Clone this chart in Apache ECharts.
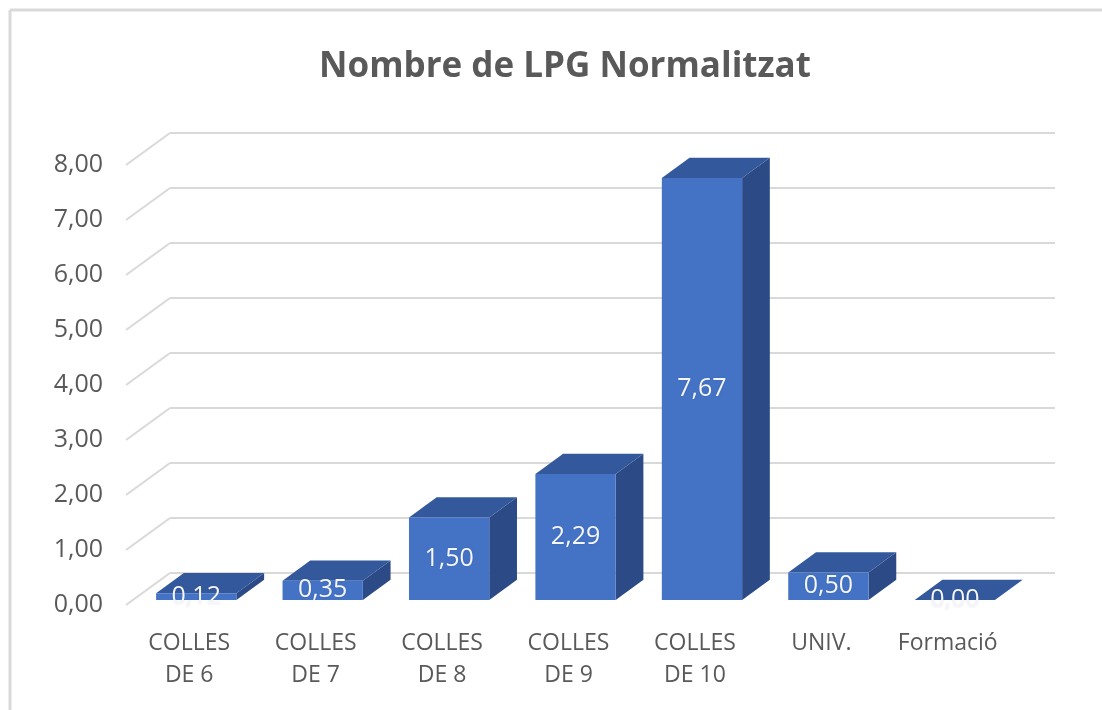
<!DOCTYPE html>
<html>
<head>
<meta charset="utf-8">
<script src="https://cdn.jsdelivr.net/npm/echarts@6/dist/echarts.min.js"></script>
<style>
  html, body { margin: 0; padding: 0; background: #ffffff; }
  #chart { width: 1102px; height: 710px; }
</style>
</head>
<body>
<div id="chart"></div>
<script>
// ---- data ----
const titleText = 'Nombre de LPG Normalitzat';
const categories = ['COLLES\nDE 6', 'COLLES\nDE 7', 'COLLES\nDE 8', 'COLLES\nDE 9', 'COLLES\nDE 10', 'UNIV.', 'Formació'];
const values = [0.12, 0.35, 1.50, 2.29, 7.67, 0.50, 0.00];
const tickValues = [0, 1, 2, 3, 4, 5, 6, 7, 8];

// ---- style ----
const FONT = '"Open Sans", "Noto Sans", sans-serif';
const TEXT = '#595959';
const GRID_LINE = '#d9d9d9';
const FRONT = '#4472c4';
const TOP = '#34589c';
const SIDE = '#2b4a86';
const DEPTH = [44, -32];      // floor depth offset (px)
const BAR_T0 = 0.16, BAR_T1 = 0.79; // bar placement along depth
const BAR_W = 0.635;          // fraction of band

const fmt = v => v.toFixed(2).replace('.', ',');

const chart = echarts.init(document.getElementById('chart'), null, { renderer: 'canvas' });

function renderWall(params, api) {
  const cs = params.coordSys;
  const v = api.value(0);
  const y = api.coord([0, v])[1];
  const x0 = cs.x, x1 = cs.x + cs.width;
  const style = { stroke: GRID_LINE, lineWidth: 2, fill: null };
  return {
    type: 'group',
    children: [
      { type: 'line', shape: { x1: x0, y1: y, x2: x0 + DEPTH[0], y2: y + DEPTH[1] }, style },
      { type: 'line', shape: { x1: x0 + DEPTH[0], y1: y + DEPTH[1], x2: x1 + DEPTH[0], y2: y + DEPTH[1] }, style }
    ]
  };
}

function renderBar(params, api) {
  const idx = api.value(0);
  const val = api.value(1);
  const top = api.coord([idx, val]);
  const base = api.coord([idx, 0]);
  const band = api.size([1, 0])[0];
  const w = band * BAR_W;
  const fx = DEPTH[0] * BAR_T0, fy = DEPTH[1] * BAR_T0;
  const dx = DEPTH[0] * (BAR_T1 - BAR_T0), dy = DEPTH[1] * (BAR_T1 - BAR_T0);
  const xl = top[0] - w / 2 + fx, xr = top[0] + w / 2 + fx;
  const yt = top[1] + fy, yb = base[1] + fy;
  return {
    type: 'group',
    children: [
      { type: 'polygon', shape: { points: [[xr, yt], [xr + dx, yt + dy], [xr + dx, yb + dy], [xr, yb]] }, style: { fill: SIDE } },
      { type: 'polygon', shape: { points: [[xl, yt], [xl + dx, yt + dy], [xr + dx, yt + dy], [xr, yt]] }, style: { fill: TOP } },
      { type: 'rect', shape: { x: xl, y: yt, width: xr - xl, height: yb - yt }, style: { fill: FRONT } },
      { type: 'text', style: {
          text: fmt(val), x: (xl + xr) / 2, y: (yt + yb) / 2,
          align: 'center', verticalAlign: 'middle',
          fill: '#f4f6fb', font: '25px ' + FONT,
          textShadowColor: 'rgba(0,0,0,0.12)', textShadowBlur: 2
        }, z2: 10 }
    ]
  };
}

chart.setOption({
  backgroundColor: '#ffffff',
  animation: false,
  title: {
    text: titleText,
    left: 560,
    top: 38,
    textAlign: 'center',
    textStyle: { fontFamily: FONT, fontSize: 35, fontWeight: 'bold', color: TEXT, lineHeight: 48 }
  },
  graphic: [
    { type: 'line', shape: { x1: 10, y1: 10, x2: 1102, y2: 10 }, style: { stroke: '#d9d9d9', lineWidth: 3 } },
    { type: 'line', shape: { x1: 10, y1: 10, x2: 10, y2: 710 }, style: { stroke: '#d9d9d9', lineWidth: 3 } }
  ],
  grid: { left: 126, right: 91, top: 165, bottom: 105 },
  xAxis: {
    type: 'category',
    data: categories,
    axisLine: { show: false },
    axisTick: { show: false },
    axisLabel: { color: TEXT, fontFamily: FONT, fontSize: 23, lineHeight: 32, margin: 22, interval: 0 }
  },
  yAxis: {
    type: 'value',
    min: 0, max: 8, interval: 1,
    axisLine: { show: false },
    axisTick: { show: false },
    splitLine: { show: false },
    axisLabel: { color: TEXT, fontFamily: FONT, fontSize: 25, margin: 23, formatter: v => fmt(v) }
  },
  series: [
    {
      type: 'custom',
      renderItem: renderWall,
      data: tickValues.map(v => [v]),
      encode: { y: 0 },
      silent: true,
      z: 1
    },
    {
      type: 'custom',
      renderItem: renderBar,
      data: values.map((v, i) => [i, v]),
      encode: { x: 0, y: 1 },
      z: 2
    }
  ]
});
</script>
</body>
</html>
